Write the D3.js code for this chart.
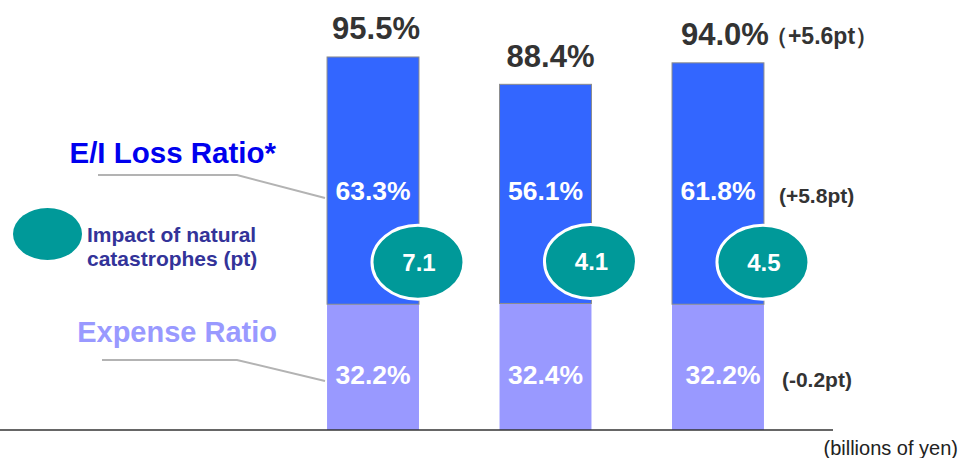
<!DOCTYPE html>
<html>
<head>
<meta charset="utf-8">
<script src="https://cdn.jsdelivr.net/npm/d3@7"></script>
<style>
  body { margin: 0; background: #fff; }
  svg { display: block; font-family: "Liberation Sans", Arial, sans-serif; }
</style>
</head>
<body>
<div id="chart"></div>
<script>
// Data
const periods = ["A", "B", "C"];
const expenseRatio = [32.2, 32.4, 32.2];
const lossRatio = [63.3, 56.1, 61.8];
const combinedRatio = [95.5, 88.4, 94.0];
const catImpact = [7.1, 4.1, 4.5];
const combinedChange = "（+5.6pt）";
const lossChange = "(+5.8pt)";
const expenseChange = "(-0.2pt)";

const W = 962, H = 458;
const baseY = 430;

const svg = d3.select("#chart")
  .append("svg")
    .attr("width", W)
    .attr("height", H);

// Scales
const x = d3.scaleBand()
  .domain(periods)
  .range([246.5, 844.5])
  .paddingInner(0.467)
  .paddingOuter(0.467);

const y = d3.scaleLinear()
  .domain([0, 100])
  .range([baseY, baseY - 390.6]);

const data = periods.map((p, i) => ({
  p, exp: expenseRatio[i], loss: lossRatio[i], total: combinedRatio[i], cat: catImpact[i]
}));

// Expense segments
svg.selectAll("rect.exp")
  .data(data)
  .enter()
  .append("rect")
    .attr("class", "exp")
    .attr("x", d => x(d.p))
    .attr("y", d => y(d.exp))
    .attr("width", x.bandwidth())
    .attr("height", d => y(0) - y(d.exp))
    .attr("fill", "#9999ff");

// Loss segments
svg.selectAll("rect.loss")
  .data(data)
  .enter()
  .append("rect")
    .attr("class", "loss")
    .attr("x", d => x(d.p))
    .attr("y", d => y(d.exp + d.loss))
    .attr("width", x.bandwidth())
    .attr("height", d => y(d.exp) - y(d.exp + d.loss))
    .attr("fill", "#3366ff")
    .attr("stroke", "#8c8c8c")
    .attr("stroke-width", 1);

// Baseline
svg.append("line")
  .attr("x1", 0).attr("x2", 833)
  .attr("y1", baseY).attr("y2", baseY)
  .attr("stroke", "#333")
  .attr("stroke-width", 1.5);

// Total labels
svg.selectAll("text.total")
  .data(data)
  .enter()
  .append("text")
    .attr("class", "total")
    .attr("x", (d, i) => x(d.p) + x.bandwidth() / 2 + 3 + i * 2)
    .attr("y", d => y(d.total) - 18)
    .attr("text-anchor", "middle")
    .style("font-size", "31px")
    .style("font-weight", "bold")
    .attr("fill", "#333")
    .text(d => d.total.toFixed(1) + "%");

// Loss labels
svg.selectAll("text.lossLbl")
  .data(data)
  .enter()
  .append("text")
    .attr("x", d => x(d.p) + x.bandwidth() / 2)
    .attr("y", 200)
    .attr("text-anchor", "middle")
    .style("font-size", "26.5px")
    .style("font-weight", "bold")
    .attr("fill", "#fff")
    .text(d => d.loss.toFixed(1) + "%");

// Expense labels
svg.selectAll("text.expLbl")
  .data(data)
  .enter()
  .append("text")
    .attr("x", (d, i) => x(d.p) + x.bandwidth() / 2 + (i === 2 ? 5 : 0))
    .attr("y", 384)
    .attr("text-anchor", "middle")
    .style("font-size", "26.5px")
    .style("font-weight", "bold")
    .attr("fill", "#fff")
    .text(d => d.exp.toFixed(1) + "%");

// Natural catastrophe ellipses
const cat = svg.selectAll("g.cat")
  .data(data)
  .enter()
  .append("g")
    .attr("transform", d => `translate(${x(d.p) + x.bandwidth() - 1},${y(d.exp) - 42})`);

cat.append("ellipse")
  .attr("rx", 46)
  .attr("ry", 37)
  .attr("fill", "#009999")
  .attr("stroke", "#fff")
  .attr("stroke-width", 3);

cat.append("text")
  .attr("x", 1)
  .attr("y", 9)
  .attr("text-anchor", "middle")
  .style("font-size", "24px")
  .style("font-weight", "bold")
  .attr("fill", "#fff")
  .text(d => d.cat.toFixed(1));

// Change annotations
const last = data[data.length - 1];
svg.append("text")
  .attr("x", x(last.p) + x.bandwidth() + 1)
  .attr("y", y(last.total) - 19)
  .style("font-size", "23px")
  .style("font-weight", "bold")
  .attr("fill", "#333")
  .text(combinedChange);

svg.append("text")
  .attr("x", x(last.p) + x.bandwidth() + 15)
  .attr("y", 203)
  .style("font-size", "21px")
  .style("font-weight", "bold")
  .attr("fill", "#333")
  .text(lossChange);

svg.append("text")
  .attr("x", x(last.p) + x.bandwidth() + 18)
  .attr("y", 387)
  .style("font-size", "21px")
  .style("font-weight", "bold")
  .attr("fill", "#333")
  .text(expenseChange);

// Series labels with leader lines
svg.append("text")
  .attr("x", 276).attr("y", 163)
  .attr("text-anchor", "end")
  .style("font-size", "29.5px")
  .style("font-weight", "bold")
  .attr("fill", "#0000ee")
  .text("E/I Loss Ratio*");

svg.append("polyline")
  .attr("points", "98,175 237,175 325,198")
  .attr("fill", "none")
  .attr("stroke", "#b3b3b3")
  .attr("stroke-width", 2);

svg.append("text")
  .attr("x", 277).attr("y", 342)
  .attr("text-anchor", "end")
  .style("font-size", "29px")
  .style("font-weight", "bold")
  .attr("fill", "#9999ff")
  .text("Expense Ratio");

svg.append("polyline")
  .attr("points", "102,360 237,360 325,381")
  .attr("fill", "none")
  .attr("stroke", "#b3b3b3")
  .attr("stroke-width", 2);

// Legend for catastrophe impact
svg.append("ellipse")
  .attr("cx", 47.5).attr("cy", 234)
  .attr("rx", 34.5).attr("ry", 26)
  .attr("fill", "#009999");

svg.append("text")
  .attr("x", 87).attr("y", 242)
  .style("font-size", "21px")
  .style("font-weight", "bold")
  .attr("fill", "#333399")
  .text("Impact of natural");

svg.append("text")
  .attr("x", 87).attr("y", 266)
  .style("font-size", "21px")
  .style("font-weight", "bold")
  .attr("fill", "#333399")
  .text("catastrophes (pt)");

// Unit note
svg.append("text")
  .attr("x", 958).attr("y", 455)
  .attr("text-anchor", "end")
  .style("font-size", "20px")
  .attr("fill", "#222")
  .text("(billions of yen)");
</script>
</body>
</html>
